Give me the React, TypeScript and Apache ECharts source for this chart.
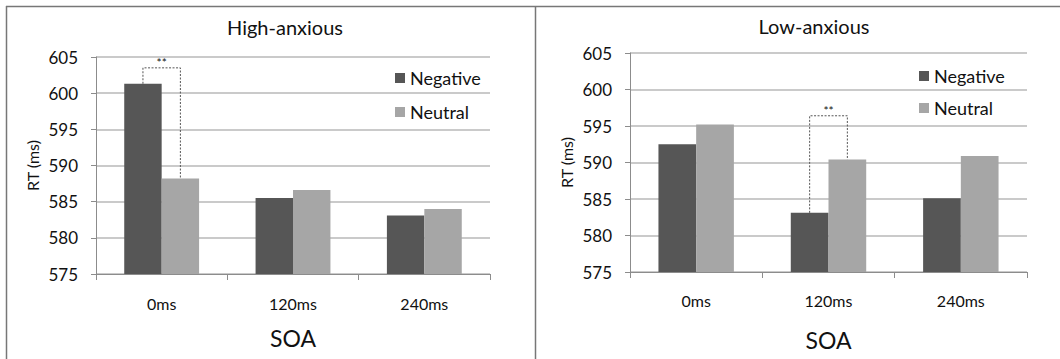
import React, { useEffect, useRef } from "react";
import * as echarts from "echarts";

const categories = ["0ms", "120ms", "240ms"];
const seriesNames = ["Negative", "Neutral"];
const highNegative = [601.3, 585.5, 583.1];
const highNeutral = [588.2, 586.6, 584.0];
const lowNegative = [592.5, 583.1, 585.1];
const lowNeutral = [595.2, 590.4, 590.9];
const yTicks = { min: 575, max: 605, interval: 5 };
const panelTitles = ["High-anxious", "Low-anxious"];
// significance brackets: [categoryIndex, bracketTop, leftBarValue, rightBarValue]
const highSig = [[0, 603.5, highNegative[0], highNeutral[0]]];
const lowSig = [[1, 596.4, lowNegative[1], lowNeutral[1]]];
const sigLabel = "**";

const FONT = "Lato, 'Open Sans', sans-serif";
const DARK = "#565656";
const LIGHT = "#a6a6a6";
const CAT_GAP = 0.43;

function sigSeries(idx: number, data: number[][]) {
  return {
    type: "custom",
    xAxisIndex: idx,
    yAxisIndex: idx,
    silent: true,
    z: 5,
    encode: { x: 0, y: 1 },
    data,
    renderItem: (params: any, api: any) => {
      const ci = api.value(0);
      const top = api.value(1);
      const lv = api.value(2);
      const rv = api.value(3);
      const catW = api.size([1, 0])[0];
      const bw = (catW * (1 - CAT_GAP)) / 2;
      const c = api.coord([ci, top]);
      const pl = api.coord([ci, lv]);
      const pr = api.coord([ci, rv]);
      const xl = c[0] - bw / 2;
      const xr = c[0] + bw / 2;
      return {
        type: "group",
        children: [
          {
            type: "polyline",
            shape: { points: [[xl, pl[1]], [xl, c[1]], [xr, c[1]], [xr, pr[1]]] },
            style: { stroke: "#555", lineWidth: 1, lineDash: [2, 1.5], fill: null },
          },
          {
            type: "text",
            style: {
              x: c[0],
              y: c[1] + 1,
              text: sigLabel,
              fill: "#111",
              font: `12px ${FONT}`,
              align: "center",
              verticalAlign: "bottom",
            },
          },
        ],
      };
    },
  };
}

export default function App() {
  const ref = useRef<HTMLDivElement>(null);
  useEffect(() => {
    document.body.style.margin = "0";
    const chart = echarts.init(ref.current!, null, { renderer: "svg" });
    const grids = [
      { left: 96, top: 57, width: 394, height: 217 },
      { left: 630, top: 53, width: 397, height: 219 },
    ];
    const xAxis = grids.map((_, i) => ({
      type: "category",
      gridIndex: i,
      data: categories,
      axisLine: { lineStyle: { color: "#8c8c8c", width: 1 } },
      axisTick: { show: true, length: 6, lineStyle: { color: "#8c8c8c" } },
      axisLabel: { color: "#111", fontSize: 16, fontFamily: FONT, margin: i === 0 ? 21 : 20 },
      name: "SOA",
      nameLocation: "middle",
      nameGap: i === 0 ? 52 : 56,
      nameTextStyle: { color: "#111", fontSize: 23, fontFamily: FONT },
    }));
    const yAxis = grids.map((_, i) => ({
      type: "value",
      gridIndex: i,
      min: yTicks.min,
      max: yTicks.max,
      interval: yTicks.interval,
      axisLine: { show: true, lineStyle: { color: "#8c8c8c", width: 1 } },
      axisTick: { show: true, length: 5, lineStyle: { color: "#8c8c8c" } },
      splitLine: { show: true, lineStyle: { color: "#b8b8b8", width: 1.5 } },
      axisLabel: { color: "#111", fontSize: 17, fontFamily: FONT, margin: 18 },
      name: "RT (ms)",
      nameLocation: "middle",
      nameGap: 56,
      nameTextStyle: { color: "#111", fontSize: 16, fontFamily: FONT },
    }));
    const bar = (name: string, idx: number, data: number[], color: string) => ({
      type: "bar",
      name,
      xAxisIndex: idx,
      yAxisIndex: idx,
      data,
      barGap: "0%",
      barCategoryGap: CAT_GAP * 100 + "%",
      itemStyle: { color },
    });
    const legendBase = {
      data: seriesNames,
      orient: "vertical",
      itemWidth: 10,
      itemHeight: 10,
      icon: "rect",
      selectedMode: false,
      textStyle: { fontSize: 18, color: "#111", fontFamily: FONT, lineHeight: 20 },
    };
    chart.setOption({
      animation: false,
      backgroundColor: "#fff",
      textStyle: { fontFamily: FONT },
      grid: grids,
      xAxis,
      yAxis,
      legend: [
        { ...legendBase, left: 390, top: 63, itemGap: 14 },
        { ...legendBase, left: 914, top: 61, itemGap: 12 },
      ],
      graphic: [
        { type: "line", shape: { x1: 6, y1: 6.5, x2: 1060, y2: 6.5 }, style: { stroke: "#777", lineWidth: 1.5 } },
        { type: "line", shape: { x1: 6.5, y1: 6, x2: 6.5, y2: 359 }, style: { stroke: "#777", lineWidth: 1.5 } },
        { type: "line", shape: { x1: 535.5, y1: 6, x2: 535.5, y2: 359 }, style: { stroke: "#777", lineWidth: 1.5 } },
        {
          type: "text",
          x: 285,
          y: 27,
          style: { text: panelTitles[0], fill: "#111", font: `20px ${FONT}`, align: "center", verticalAlign: "middle" },
        },
        {
          type: "text",
          x: 814,
          y: 26,
          style: { text: panelTitles[1], fill: "#111", font: `20px ${FONT}`, align: "center", verticalAlign: "middle" },
        },
      ],
      series: [
        bar(seriesNames[0], 0, highNegative, DARK),
        bar(seriesNames[1], 0, highNeutral, LIGHT),
        bar(seriesNames[0], 1, lowNegative, DARK),
        bar(seriesNames[1], 1, lowNeutral, LIGHT),
        sigSeries(0, highSig),
        sigSeries(1, lowSig),
      ],
    });
    return () => chart.dispose();
  }, []);
  return <div ref={ref} style={{ width: 1060, height: 359 }} />;
}
